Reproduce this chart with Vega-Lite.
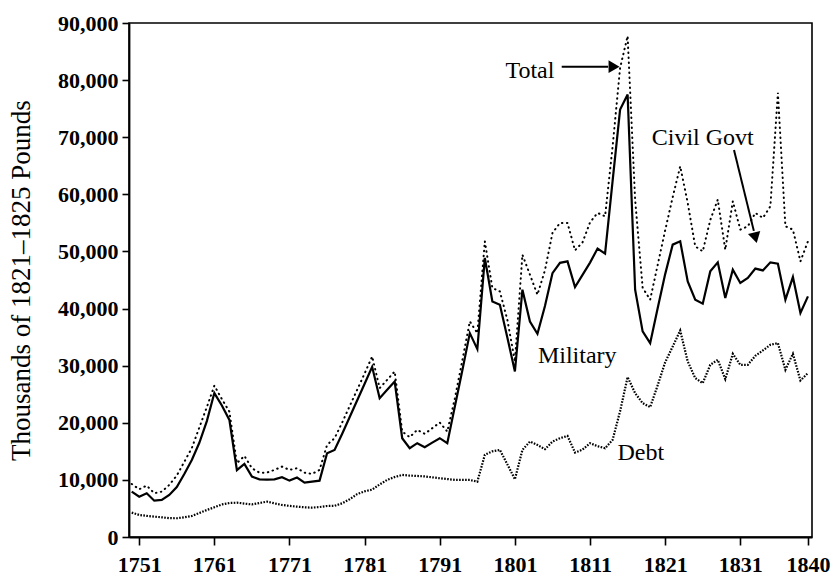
{
  "$schema": "https://vega.github.io/schema/vega-lite/v6.json",
  "width": 683,
  "height": 514,
  "autosize": {"type": "none"},
  "padding": {"left": 129, "top": 23, "right": 27, "bottom": 39},
  "background": "white",
  "config": {
    "view": {"stroke": "black", "strokeWidth": 1.6},
    "axis": {
      "grid": false,
      "labelFont": "Liberation Serif",
      "titleFont": "Liberation Serif",
      "labelColor": "black",
      "titleColor": "black",
      "domainColor": "black",
      "tickColor": "black",
      "domainWidth": 1.8,
      "tickWidth": 1.6,
      "labelFontSize": 22,
      "labelFontWeight": "bold",
      "titleFontSize": 27,
      "titleFontWeight": "normal"
    }
  },
  "datasets": {
    "series": [
      {"year": 1750, "debt": 4260, "debt_military": 7940, "total": 9290},
      {"year": 1751, "debt": 3860, "debt_military": 7060, "total": 8360},
      {"year": 1752, "debt": 3700, "debt_military": 7660, "total": 9000},
      {"year": 1753, "debt": 3560, "debt_military": 6360, "total": 7660},
      {"year": 1754, "debt": 3450, "debt_military": 6490, "total": 7940},
      {"year": 1755, "debt": 3300, "debt_military": 7360, "total": 9120},
      {"year": 1756, "debt": 3280, "debt_military": 8760, "total": 10760},
      {"year": 1757, "debt": 3450, "debt_military": 11040, "total": 13160},
      {"year": 1758, "debt": 3680, "debt_military": 13500, "total": 15580},
      {"year": 1759, "debt": 4200, "debt_military": 16500, "total": 19180},
      {"year": 1760, "debt": 4730, "debt_military": 20300, "total": 22750},
      {"year": 1761, "debt": 5200, "debt_military": 25200, "total": 26500},
      {"year": 1762, "debt": 5700, "debt_military": 23030, "total": 24140},
      {"year": 1763, "debt": 5950, "debt_military": 20500, "total": 21970},
      {"year": 1764, "debt": 6010, "debt_military": 11700, "total": 12920},
      {"year": 1765, "debt": 5850, "debt_military": 12800, "total": 14200},
      {"year": 1766, "debt": 5700, "debt_military": 10570, "total": 12040},
      {"year": 1767, "debt": 5950, "debt_military": 10100, "total": 11270},
      {"year": 1768, "debt": 6190, "debt_military": 10050, "total": 11270},
      {"year": 1769, "debt": 5900, "debt_military": 10100, "total": 11750},
      {"year": 1770, "debt": 5610, "debt_military": 10460, "total": 12320},
      {"year": 1771, "debt": 5450, "debt_military": 9870, "total": 11750},
      {"year": 1772, "debt": 5310, "debt_military": 10400, "total": 12040},
      {"year": 1773, "debt": 5200, "debt_military": 9520, "total": 11270},
      {"year": 1774, "debt": 5140, "debt_military": 9700, "total": 11040},
      {"year": 1775, "debt": 5250, "debt_military": 9870, "total": 11750},
      {"year": 1776, "debt": 5430, "debt_military": 14670, "total": 16130},
      {"year": 1777, "debt": 5450, "debt_military": 15250, "total": 17300},
      {"year": 1778, "debt": 5900, "debt_military": 18040, "total": 20020},
      {"year": 1779, "debt": 6600, "debt_military": 20970, "total": 22890},
      {"year": 1780, "debt": 7500, "debt_military": 23910, "total": 25770},
      {"year": 1781, "debt": 8000, "debt_military": 26840, "total": 28640},
      {"year": 1782, "debt": 8300, "debt_military": 29800, "total": 31610},
      {"year": 1783, "debt": 9200, "debt_military": 24310, "total": 26070},
      {"year": 1784, "debt": 10000, "debt_military": 25770, "total": 27520},
      {"year": 1785, "debt": 10500, "debt_military": 27230, "total": 28980},
      {"year": 1786, "debt": 10870, "debt_military": 17300, "total": 18460},
      {"year": 1787, "debt": 10750, "debt_military": 15550, "total": 17480},
      {"year": 1788, "debt": 10690, "debt_military": 16430, "total": 18760},
      {"year": 1789, "debt": 10600, "debt_military": 15720, "total": 18060},
      {"year": 1790, "debt": 10450, "debt_military": 16530, "total": 19050},
      {"year": 1791, "debt": 10290, "debt_military": 17300, "total": 20040},
      {"year": 1792, "debt": 10150, "debt_military": 16430, "total": 18460},
      {"year": 1793, "debt": 10000, "debt_military": 22790, "total": 24240},
      {"year": 1794, "debt": 9990, "debt_military": 29150, "total": 30900},
      {"year": 1795, "debt": 9990, "debt_military": 35700, "total": 37740},
      {"year": 1796, "debt": 9690, "debt_military": 32900, "total": 35700},
      {"year": 1797, "debt": 14400, "debt_military": 48860, "total": 51770},
      {"year": 1798, "debt": 15000, "debt_military": 41250, "total": 43600},
      {"year": 1799, "debt": 15250, "debt_military": 40670, "total": 43000},
      {"year": 1800, "debt": 12710, "debt_military": 34900, "total": 38010},
      {"year": 1801, "debt": 10110, "debt_military": 28980, "total": 30730},
      {"year": 1802, "debt": 15250, "debt_military": 43300, "total": 49430},
      {"year": 1803, "debt": 16710, "debt_military": 37740, "total": 45930},
      {"year": 1804, "debt": 16130, "debt_military": 35590, "total": 42420},
      {"year": 1805, "debt": 15370, "debt_military": 40460, "total": 46720},
      {"year": 1806, "debt": 16700, "debt_military": 46200, "total": 53240},
      {"year": 1807, "debt": 17300, "debt_military": 48000, "total": 54990},
      {"year": 1808, "debt": 17700, "debt_military": 48260, "total": 54990},
      {"year": 1809, "debt": 14780, "debt_military": 43770, "total": 50190},
      {"year": 1810, "debt": 15300, "debt_military": 45900, "total": 51590},
      {"year": 1811, "debt": 16430, "debt_military": 48050, "total": 55100},
      {"year": 1812, "debt": 15900, "debt_military": 50500, "total": 56750},
      {"year": 1813, "debt": 15550, "debt_military": 49610, "total": 56150},
      {"year": 1814, "debt": 17000, "debt_military": 62320, "total": 68330},
      {"year": 1815, "debt": 22030, "debt_military": 74850, "total": 82160},
      {"year": 1816, "debt": 28000, "debt_military": 77480, "total": 87700},
      {"year": 1817, "debt": 25190, "debt_military": 43300, "total": 59080},
      {"year": 1818, "debt": 23440, "debt_military": 36000, "total": 43650},
      {"year": 1819, "debt": 22740, "debt_military": 33950, "total": 41550},
      {"year": 1820, "debt": 26560, "debt_military": 40070, "total": 47630},
      {"year": 1821, "debt": 30600, "debt_military": 46030, "total": 53710},
      {"year": 1822, "debt": 33340, "debt_military": 51190, "total": 59510},
      {"year": 1823, "debt": 36160, "debt_military": 51770, "total": 64910},
      {"year": 1824, "debt": 30730, "debt_military": 44760, "total": 58500},
      {"year": 1825, "debt": 27820, "debt_military": 41550, "total": 50900},
      {"year": 1826, "debt": 26940, "debt_military": 40850, "total": 50010},
      {"year": 1827, "debt": 30150, "debt_military": 46510, "total": 55500},
      {"year": 1828, "debt": 31030, "debt_military": 48090, "total": 59080},
      {"year": 1829, "debt": 27640, "debt_military": 41840, "total": 50310},
      {"year": 1830, "debt": 32080, "debt_military": 46800, "total": 58780},
      {"year": 1831, "debt": 30150, "debt_military": 44470, "total": 53820},
      {"year": 1832, "debt": 30150, "debt_military": 45350, "total": 54400},
      {"year": 1833, "debt": 31730, "debt_military": 47000, "total": 56750},
      {"year": 1834, "debt": 32660, "debt_military": 46680, "total": 55870},
      {"year": 1835, "debt": 33660, "debt_military": 48090, "total": 57900},
      {"year": 1836, "debt": 33950, "debt_military": 47860, "total": 77780},
      {"year": 1837, "debt": 29280, "debt_military": 41550, "total": 54400},
      {"year": 1838, "debt": 32080, "debt_military": 45520, "total": 53820},
      {"year": 1839, "debt": 27400, "debt_military": 39210, "total": 48260},
      {"year": 1840, "debt": 28700, "debt_military": 42130, "total": 51770}
    ],
    "notes": [
      {"year": 1803.0, "value": 80370, "label": "Total"},
      {"year": 1826.0, "value": 68640, "label": "Civil Govt"},
      {"year": 1809.3, "value": 30470, "label": "Military"},
      {"year": 1817.75, "value": 13480, "label": "Debt"}
    ],
    "arrows": [
      {"year": 1807.23, "year2": 1813.4, "value": 82350, "value2": 82350},
      {"year": 1830.16, "year2": 1832.8, "value": 67760, "value2": 53600}
    ],
    "heads": [
      {"year": 1813.95, "value": 82350, "angle": 90},
      {"year": 1832.95, "value": 52700, "angle": 166}
    ]
  },
  "encoding": {
    "x": {
      "field": "year",
      "type": "quantitative",
      "scale": {"domain": [1749.64, 1840.54], "nice": false, "zero": false},
      "axis": {
        "values": [1751, 1761, 1771, 1781, 1791, 1801, 1811, 1821, 1831, 1840],
        "format": "d",
        "title": null,
        "tickSize": 8,
        "labelPadding": 9
      }
    }
  },
  "layer": [
    {
      "data": {"name": "series"},
      "mark": {"type": "line", "color": "black", "strokeWidth": 2, "strokeDash": [0.5, 4.5], "strokeCap": "round"},
      "encoding": {
        "y": {
          "field": "total",
          "type": "quantitative",
          "scale": {"domain": [0, 90000], "nice": false},
          "axis": {
            "values": [0, 10000, 20000, 30000, 40000, 50000, 60000, 70000, 80000, 90000],
            "format": ",d",
            "tickSize": 7,
            "labelPadding": 4,
            "titlePadding": 22
          },
          "title": "Thousands of 1821–1825 Pounds"
        }
      }
    },
    {
      "data": {"name": "series"},
      "mark": {"type": "line", "color": "black", "strokeWidth": 2.2},
      "encoding": {
        "y": {"field": "debt_military", "type": "quantitative", "title": "Thousands of 1821–1825 Pounds"}
      }
    },
    {
      "data": {"name": "series"},
      "mark": {"type": "line", "color": "black", "strokeWidth": 2.2, "strokeDash": [1.6, 1.4]},
      "encoding": {
        "y": {"field": "debt", "type": "quantitative", "title": "Thousands of 1821–1825 Pounds"}
      }
    },
    {
      "data": {"name": "notes"},
      "mark": {"type": "text", "font": "Liberation Serif", "fontSize": 24, "color": "black", "align": "center", "baseline": "alphabetic"},
      "encoding": {
        "y": {"field": "value", "type": "quantitative", "title": "Thousands of 1821–1825 Pounds"},
        "text": {"field": "label"}
      }
    },
    {
      "data": {"name": "arrows"},
      "mark": {"type": "rule", "color": "black", "strokeWidth": 2},
      "encoding": {
        "x2": {"field": "year2"},
        "y": {"field": "value", "type": "quantitative", "title": "Thousands of 1821–1825 Pounds"},
        "y2": {"field": "value2"}
      }
    },
    {
      "data": {"name": "heads"},
      "mark": {"type": "point", "shape": "triangle", "filled": true, "color": "black", "opacity": 1, "size": 160},
      "encoding": {
        "y": {"field": "value", "type": "quantitative", "title": "Thousands of 1821–1825 Pounds"},
        "angle": {"field": "angle", "type": "quantitative", "scale": null}
      }
    }
  ]
}
